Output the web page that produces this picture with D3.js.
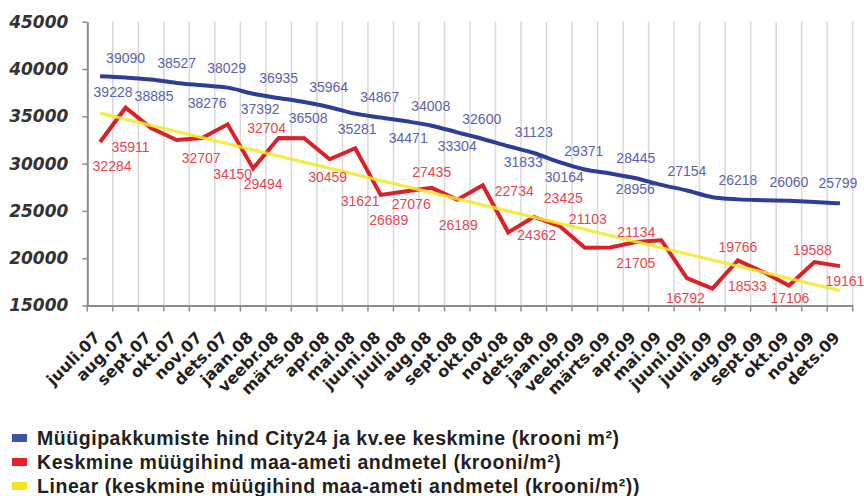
<!DOCTYPE html>
<html><head><meta charset="utf-8">
<script src="https://cdn.jsdelivr.net/npm/d3@7"></script>
<style>
html,body{margin:0;padding:0;background:#fff;}
svg{display:block;}
</style></head>
<body>
<svg id="chart" width="864" height="496"></svg>
<script>
// ---- data ----
const categories = ["juuli.07","aug.07","sept.07","okt.07","nov.07","dets.07","jaan.08","veebr.08","märts.08","apr.08","mai.08","juuni.08","juuli.08","aug.08","sept.08","okt.08","nov.08","dets.08","jaan.09","veebr.09","märts.09","apr.09","mai.09","juuni.09","juuli.09","aug.09","sept.09","okt.09","nov.09","dets.09"];
const offerPrice = [39228,39090,38885,38527,38276,38029,37392,36935,36508,35964,35281,34867,34471,34008,33304,32600,31833,31123,30164,29371,28956,28445,27750,27154,26450,26218,26130,26060,25950,25799];
const salePrice = [32284,35911,33750,32500,32707,34150,29494,32704,32680,30459,31621,26689,27076,27435,26189,27700,22734,24362,23425,21103,21134,21705,21900,17900,16792,19766,18533,17106,19588,19161];
const yTicks = [15000,20000,25000,30000,35000,40000,45000];
const seriesNames = [
  "Müügipakkumiste hind City24 ja kv.ee keskmine (krooni m²)",
  "Keskmine müügihind maa-ameti andmetel (krooni/m²)",
  "Linear (keskmine müügihind maa-ameti andmetel (krooni/m²))"
];

// ---- label layout (offsets in px from the point; null = no label) ----
const offerLabelLayout = [[13,16],[0,-20],[3,16],[0,-20],[5,18],[-1,-20],[7,15],[0,-20],[4,16],[-1,-20],[2,15],[-1,-21],[2,17],[-1,-20],[0,14],[-1,-20],[15,16],[0,-21],[5,15],[-1,-19],[25,15],[0,-20],null,[0,-20],null,[0,-19],null,[0,-19],null,[-2,-20]];
const saleLabelLayout = [[12,24],[5,39],null,null,[-1,20],[5,50],[10,16],[-12,-10],null,[-2,18],[5,53],[8,25],[5,13],[0,-16],[1,25],null,[6,-41],[3,18],[4,-28],[3,-29],[26,-16],[0,21],null,null,[-27,9],[0,-13],[-16,14],[1,12],[-2,-12],[5,15]];

const colors = {blue:"#2e3d97", blueLbl:"#5a63ab", blueKey:"#3b54a6", red:"#dc2028", redLbl:"#e6464f", redKey:"#e42129", yellow:"#f1ea2a", yellowKey:"#f3e81b"};

const svg = d3.select("#chart");
const X0 = 87.3, X1 = 852.7, YT = 21.7, YB = 305.5;

const x = d3.scaleBand().domain(categories).range([X0, X1]).padding(0);
const cx = c => x(c) + x.bandwidth()/2;
const y = d3.scaleLinear().domain([15000,45000]).range([YB, YT]);

// gridlines at category boundaries
const bounds = d3.range(1, categories.length + 1).map(i => X0 + i * x.bandwidth());
svg.append("g").selectAll("line").data(bounds).join("line")
  .attr("x1", d => d).attr("x2", d => d).attr("y1", YT).attr("y2", YB)
  .attr("stroke", "#d8d8d8").attr("stroke-width", 1.5);

// y axis
const yAxis = svg.append("g").attr("transform", `translate(${X0},0)`)
  .call(d3.axisLeft(y).tickValues(yTicks).tickFormat(d3.format("d")).tickSize(5).tickSizeOuter(0).tickPadding(14));
yAxis.select(".domain").attr("stroke", "#8c8c8c").attr("stroke-width", 2);
yAxis.selectAll(".tick line").attr("stroke", "#8c8c8c").attr("stroke-width", 1.5);
yAxis.selectAll(".tick text")
  .attr("font-family", "DejaVu Sans").attr("font-weight", "bold").attr("font-style", "italic")
  .attr("font-size", 17).attr("fill", "#333");

// x axis
const xAxis = svg.append("g").attr("transform", `translate(0,${YB})`)
  .call(d3.axisBottom(x).tickSize(0).tickSizeOuter(0));
xAxis.select(".domain").attr("stroke", "#8c8c8c").attr("stroke-width", 2);
xAxis.selectAll(".tick text")
  .attr("x", 0).attr("y", 0).attr("dy", 0)
  .attr("transform", "translate(1,33) rotate(-45)")
  .style("text-anchor", "end")
  .attr("font-family", "DejaVu Sans").attr("font-weight", "bold")
  .attr("font-size", 16).attr("fill", "#231f20");
svg.append("g").selectAll("line").data([X0].concat(bounds)).join("line")
  .attr("x1", d => d).attr("x2", d => d).attr("y1", YB).attr("y2", YB + 6)
  .attr("stroke", "#8c8c8c").attr("stroke-width", 1.5);

// lines
const offerData = categories.map((c, i) => ({c, v: offerPrice[i]}));
const saleData = categories.map((c, i) => ({c, v: salePrice[i]}));

svg.append("path").datum(offerData)
  .attr("d", d3.line().x(d => cx(d.c)).y(d => y(d.v)).curve(d3.curveMonotoneX))
  .attr("fill", "none").attr("stroke", colors.blue).attr("stroke-width", 4).attr("stroke-linejoin", "round");

svg.append("path").datum(saleData)
  .attr("d", d3.line().x(d => cx(d.c)).y(d => y(d.v)))
  .attr("fill", "none").attr("stroke", colors.red).attr("stroke-width", 4).attr("stroke-linejoin", "miter");

// linear trend (least squares over the sale series)
const n = salePrice.length;
const mx = d3.mean(d3.range(n)), my = d3.mean(salePrice);
const slope = d3.sum(d3.range(n), i => (i - mx) * (salePrice[i] - my)) / d3.sum(d3.range(n), i => (i - mx) ** 2);
const icpt = my - slope * mx;
const trend = [0, n - 1].map(i => ({c: categories[i], v: icpt + slope * i}));
svg.append("path").datum(trend)
  .attr("d", d3.line().x(d => cx(d.c)).y(d => y(d.v)))
  .attr("fill", "none").attr("stroke", colors.yellow).attr("stroke-width", 3.2).attr("opacity", 0.85);

// data labels
function labels(data, layout, color) {
  svg.append("g").selectAll("text")
    .data(data.map((d, i) => ({...d, o: layout[i]})).filter(d => d.o))
    .join("text")
    .attr("x", d => cx(d.c) + d.o[0]).attr("y", d => y(d.v) + d.o[1])
    .attr("dy", "0.36em").attr("text-anchor", "middle")
    .attr("font-family", "Liberation Sans, Arial, sans-serif").attr("font-size", 14)
    .attr("fill", color).text(d => d.v);
}
labels(offerData, offerLabelLayout, colors.blueLbl);
labels(saleData, saleLabelLayout, colors.redLbl);

// legend
const keyColors = [colors.blueKey, colors.redKey, colors.yellowKey];
const lg = svg.append("g").selectAll("g").data(seriesNames).join("g")
  .attr("transform", (d, i) => `translate(0,${445 + i * 24})`);
lg.append("rect").attr("x", 12).attr("y", -11).attr("width", 15).attr("height", 8)
  .attr("fill", (d, i) => keyColors[i]);
lg.append("text").attr("x", 37).attr("y", 0)
  .attr("font-family", "Liberation Sans, Arial, sans-serif").attr("font-weight", "bold")
  .attr("font-size", 19.5).attr("letter-spacing", 0.55).attr("fill", "#231f20")
  .text(d => d);
</script>
</body></html>
